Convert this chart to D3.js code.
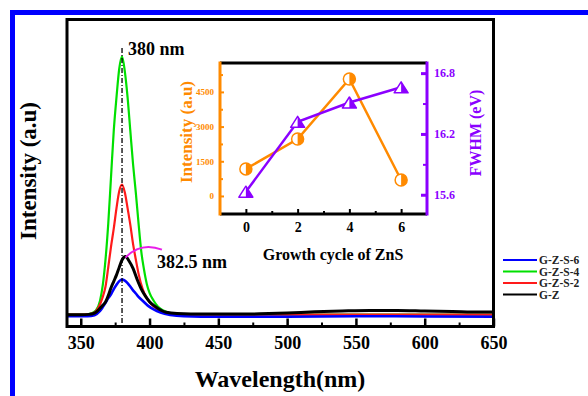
<!DOCTYPE html>
<html>
<head>
<meta charset="utf-8">
<script src="https://cdn.jsdelivr.net/npm/d3@7"></script>
<style>
  body { margin: 0; background: #fff; }
  text { font-family: "Liberation Serif", "Times New Roman", serif; font-weight: bold; }
</style>
</head>
<body>
<div id="chart"></div>
<script>
// PL spectra, [wavelength (nm), intensity (a.u.)]
var gzs4 = [[340,46],[350,46],[355,47],[358,52],[361,62],[364,100],[366,160],[368,260],[370,400],[372,580],[374,760],[376,890],[378,1000],[380,1046],[382,990],[384,890],[386,760],[388,630],[390,520],[392,400],[394,290],[396,220],[398,165],[400,130],[403,100],[406,78],[410,62],[415,52],[420,48],[430,46],[500,46],[650,46]];
var gzs2 = [[340,46],[352,46],[356,48],[360,55],[363,75],[366,115],[368,155],[370,230],[372,310],[374,380],[376,460],[378,525],[380,550],[382,520],[384,460],[386,395],[388,320],[390,260],[392,205],[395,145],[398,110],[403,78],[408,60],[412,52],[420,47],[430,46],[650,46]];
var gzs6 = [[340,40],[355,40],[360,44],[364,60],[366,75],[368,92],[370,110],[372,125],[374,145],[376,162],[378,176],[380,182],[382,178],[384,168],[386,155],[388,140],[390,128],[392,115],[395,100],[399,80],[403,66],[408,54],[415,45],[425,40],[450,38],[500,38],[550,40],[600,39],[650,38]];
var gz = [[340,46],[350,46],[356,47],[360,52],[363,65],[366,82],[368,95],[370,120],[372,150],[374,175],[376,200],[378,230],[380,258],[382.5,271],[385,255],[388,225],[391,182],[394,145],[397,118],[400,96],[404,78],[408,64],[412,55],[420,50],[440,48],[460,48],[480,49],[500,52],[520,57],[540,60],[560,62],[580,62],[600,60],[620,58],[640,56],[650,56]];

var seriesNames = ["G-Z-S-6", "G-Z-S-4", "G-Z-S-2", "G-Z"];
var seriesColors = ["#0000ff", "#00e000", "#ff1a1a", "#000000"];
var xMajor = [350, 400, 450, 500, 550, 600, 650];
var xMinor = [375, 425, 475, 525, 575, 625];

// inset: growth cycle of ZnS
var cycles = [0, 2, 4, 6];
var insetIntensity = [1170, 2460, 5060, 690];
var insetFwhm = [15.63, 16.32, 16.51, 16.66];
var intTicks = [0, 1500, 3000, 4500];
var intMinor = [750, 2250, 3750, 5250];
var fwhmTicks = [15.6, 16.2, 16.8];
var fwhmMinor = [15.9, 16.5];

var orange = "#ff8a00", purple = "#8b00ff";

var svg = d3.select("#chart").append("svg")
    .attr("width", 588)
    .attr("height", 396);

svg.append("rect").attr("width", 588).attr("height", 396).attr("fill", "#fff");

// blue frame around the figure
svg.append("rect")
    .attr("x", 12.5).attr("y", 12.5)
    .attr("width", 640).attr("height", 440)
    .attr("fill", "none").attr("stroke", "#0000ff").attr("stroke-width", 5);

var pLeft = 67, pRight = 493.5, pTop = 19.5, pBottom = 326.5;

var x = d3.scaleLinear().domain([340, 650]).range([pLeft, pRight]);
var y = d3.scaleLinear().domain([0, 1190]).range([pBottom, pTop]);

var line = d3.line()
    .x(function (d) { return x(d[0]); })
    .y(function (d) { return y(d[1]); })
    .curve(d3.curveMonotoneX);

svg.append("clipPath").attr("id", "plotClip")
    .append("rect").attr("x", pLeft).attr("y", pTop).attr("width", pRight - pLeft).attr("height", pBottom - pTop);

var curves = svg.append("g").attr("clip-path", "url(#plotClip)");
// draw order: green, red, blue, black on top
[[gzs4, seriesColors[1], 2.2], [gzs2, seriesColors[2], 2.2], [gzs6, seriesColors[0], 2.6], [gz, seriesColors[3], 3]].forEach(function (s) {
    curves.append("path")
        .attr("d", line(s[0]))
        .attr("fill", "none")
        .attr("stroke", s[1])
        .attr("stroke-width", s[2])
        .attr("stroke-linejoin", "round");
});

// dash-dot marker at 380 nm
svg.append("line")
    .attr("x1", x(380)).attr("x2", x(380))
    .attr("y1", 48).attr("y2", pBottom)
    .attr("stroke", "#000").attr("stroke-width", 1.3)
    .attr("stroke-dasharray", "5,2,1,2");

// magenta arc pointing at the G-Z peak
svg.append("path")
    .attr("d", "M" + x(382.5) + "," + (y(271) + 1) + " Q" + x(393.5) + "," + (y(271) - 15) + " " + x(409) + "," + (y(271) - 7))
    .attr("fill", "none").attr("stroke", "#e81ee8").attr("stroke-width", 2);

svg.append("text").attr("x", 128).attr("y", 55).attr("font-size", 18).text("380 nm");
svg.append("text").attr("x", 157).attr("y", 268).attr("font-size", 18).text("382.5 nm");

// x axis ticks (inward)
var gx = svg.append("g").attr("transform", "translate(0," + pBottom + ")")
    .call(d3.axisBottom(x).tickValues(xMajor).tickSize(-8).tickSizeOuter(0).tickPadding(10));
gx.select(".domain").remove();
gx.selectAll("line").attr("stroke-width", 2.5);
gx.selectAll("text").attr("font-size", 18).attr("fill", "#000")
    .style("font-family", "'Liberation Serif', serif").style("font-weight", "bold");

var gxm = svg.append("g").attr("transform", "translate(0," + pBottom + ")")
    .call(d3.axisBottom(x).tickValues(xMinor).tickSize(-4).tickSizeOuter(0).tickFormat(""));
gxm.select(".domain").remove();
gxm.selectAll("line").attr("stroke-width", 2);

svg.append("rect")
    .attr("x", pLeft).attr("y", pTop)
    .attr("width", pRight - pLeft).attr("height", pBottom - pTop)
    .attr("fill", "none").attr("stroke", "#000").attr("stroke-width", 3);

svg.append("text")
    .attr("x", 280).attr("y", 387)
    .attr("text-anchor", "middle").attr("font-size", 24)
    .text("Wavelength(nm)");

svg.append("text")
    .attr("transform", "translate(36,171) rotate(-90)")
    .attr("text-anchor", "middle").attr("font-size", 23)
    .text("Intensity (a.u)");

// legend
var lg = svg.append("g");
seriesNames.forEach(function (name, i) {
    var ly = 260 + i * 11.5;
    lg.append("line").attr("x1", 503).attr("x2", 537).attr("y1", ly).attr("y2", ly)
        .attr("stroke", seriesColors[i]).attr("stroke-width", 2);
    lg.append("text").attr("x", 539).attr("y", ly + 4).attr("font-size", 11.5)
        .attr("fill", "#222").text(name);
});

// ---- inset ----
var iL = 220, iR = 427, iT = 63, iB = 214;
var ix = d3.scaleLinear().domain([-1, 7]).range([iL, iR]);
var iyL = d3.scaleLinear().domain([-780, 5750]).range([iB, iT]);
var iyR = d3.scaleLinear().domain([15.41, 16.9]).range([iB, iT]);

var inset = svg.append("g");
inset.append("rect").attr("x", iL).attr("y", iT).attr("width", iR - iL).attr("height", iB - iT).attr("fill", "#fff");

function styleAxis(g, color, size) {
    g.select(".domain").remove();
    g.selectAll("line").attr("stroke", color).attr("stroke-width", 2);
    g.selectAll("text").attr("fill", color).attr("font-size", size)
        .style("font-family", "'Liberation Serif', serif").style("font-weight", "bold");
}

var ibx = inset.append("g").attr("transform", "translate(0," + iB + ")")
    .call(d3.axisBottom(ix).tickValues(cycles).tickSize(-5).tickSizeOuter(0).tickPadding(8));
styleAxis(ibx, "#000", 14);
var ibxm = inset.append("g").attr("transform", "translate(0," + iB + ")")
    .call(d3.axisBottom(ix).tickValues([1, 3, 5]).tickSize(-3).tickSizeOuter(0).tickFormat(""));
styleAxis(ibxm, "#000", 14);

var ily = inset.append("g").attr("transform", "translate(" + iL + ",0)")
    .call(d3.axisLeft(iyL).tickValues(intTicks).tickSize(-4).tickSizeOuter(0).tickPadding(6).tickFormat(d3.format("d")));
styleAxis(ily, orange, 9);
var ilym = inset.append("g").attr("transform", "translate(" + iL + ",0)")
    .call(d3.axisLeft(iyL).tickValues(intMinor).tickSize(-3).tickSizeOuter(0).tickFormat(""));
styleAxis(ilym, orange, 9);

var iry = inset.append("g").attr("transform", "translate(" + iR + ",0)")
    .call(d3.axisRight(iyR).tickValues(fwhmTicks).tickSize(-6).tickSizeOuter(0).tickPadding(7).tickFormat(d3.format(".1f")));
styleAxis(iry, purple, 12);
iry.selectAll("line").attr("stroke-width", 3);
var irym = inset.append("g").attr("transform", "translate(" + iR + ",0)")
    .call(d3.axisRight(iyR).tickValues(fwhmMinor).tickSize(-4).tickSizeOuter(0).tickFormat(""));
styleAxis(irym, purple, 12);

// inset frame
inset.append("line").attr("x1", iL).attr("x2", iR).attr("y1", iT).attr("y2", iT).attr("stroke", "#000").attr("stroke-width", 3);
inset.append("line").attr("x1", iL).attr("x2", iR).attr("y1", iB).attr("y2", iB).attr("stroke", "#000").attr("stroke-width", 3);
inset.append("line").attr("x1", iL).attr("x2", iL).attr("y1", iT - 1.5).attr("y2", iB + 1.5).attr("stroke", orange).attr("stroke-width", 3);
inset.append("line").attr("x1", iR).attr("x2", iR).attr("y1", iT - 1.5).attr("y2", iB + 1.5).attr("stroke", purple).attr("stroke-width", 3);

var intPts = cycles.map(function (c, i) { return [ix(c), iyL(insetIntensity[i])]; });
var fwPts = cycles.map(function (c, i) { return [ix(c), iyR(insetFwhm[i])]; });

inset.append("path").attr("d", d3.line()(intPts)).attr("fill", "none").attr("stroke", orange).attr("stroke-width", 2.5);
inset.append("path").attr("d", d3.line()(fwPts)).attr("fill", "none").attr("stroke", purple).attr("stroke-width", 2.5);

// half-filled circles
intPts.forEach(function (p) {
    var r = 6;
    inset.append("circle").attr("cx", p[0]).attr("cy", p[1]).attr("r", r).attr("fill", "#fff");
    inset.append("path")
        .attr("d", "M" + p[0] + "," + (p[1] - r) + " A" + r + "," + r + " 0 0 1 " + p[0] + "," + (p[1] + r) + " Z")
        .attr("fill", orange);
    inset.append("circle").attr("cx", p[0]).attr("cy", p[1]).attr("r", r).attr("fill", "none")
        .attr("stroke", orange).attr("stroke-width", 1.5);
});

// half-filled triangles
fwPts.forEach(function (p) {
    var hw = 7, h = 11;
    var x0 = p[0], y0 = p[1];
    var tri = "M" + x0 + "," + (y0 - h / 2) + " L" + (x0 + hw) + "," + (y0 + h / 2) + " L" + (x0 - hw) + "," + (y0 + h / 2) + " Z";
    inset.append("path").attr("d", tri).attr("fill", "#fff");
    inset.append("path")
        .attr("d", "M" + x0 + "," + (y0 - h / 2) + " L" + (x0 + hw) + "," + (y0 + h / 2) + " L" + x0 + "," + (y0 + h / 2) + " Z")
        .attr("fill", purple);
    inset.append("path").attr("d", tri).attr("fill", "none").attr("stroke", purple).attr("stroke-width", 1.5)
        .attr("stroke-linejoin", "round");
});

inset.append("text")
    .attr("transform", "translate(192,132) rotate(-90)")
    .attr("text-anchor", "middle").attr("font-size", 17).attr("fill", orange)
    .text("Intensity (a.u)");

inset.append("text")
    .attr("transform", "translate(481,133) rotate(-90)")
    .attr("text-anchor", "middle").attr("font-size", 16).attr("fill", purple)
    .text("FWHM (eV)");

inset.append("text")
    .attr("x", 333).attr("y", 260)
    .attr("text-anchor", "middle").attr("font-size", 16)
    .text("Growth cycle of ZnS");
</script>
</body>
</html>
